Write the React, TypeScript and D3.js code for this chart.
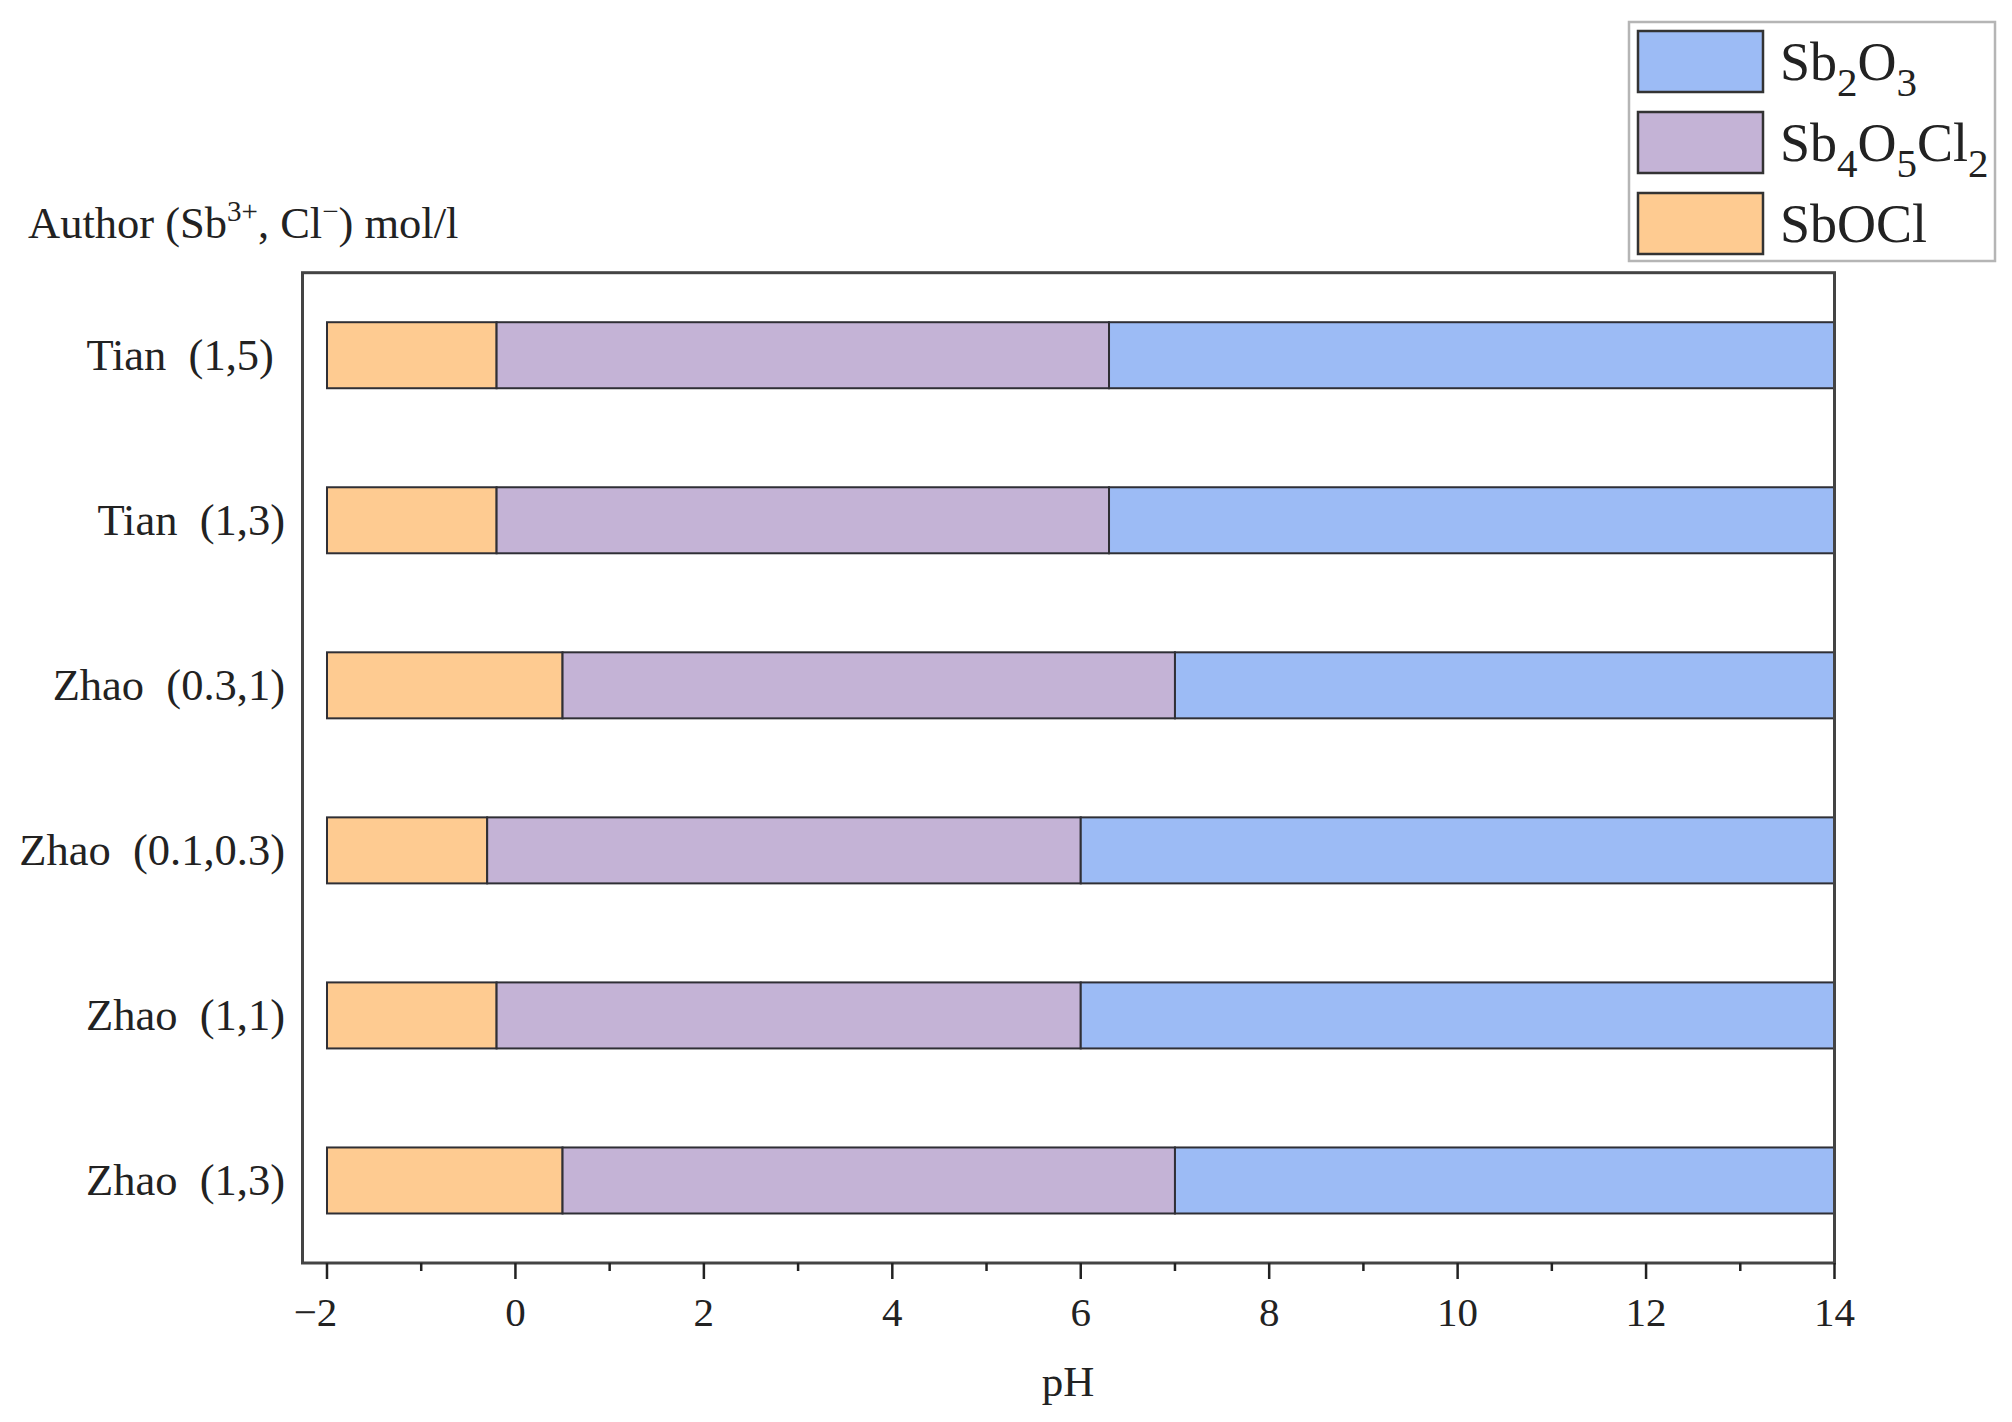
import React from "react";
import * as d3 from "d3";

const categories = ["Tian  (1,5) ", "Tian  (1,3)", "Zhao  (0.3,1)", "Zhao  (0.1,0.3)", "Zhao  (1,1)", "Zhao  (1,3)"];
const phStart = -2;
const phEnd = 14;
const sbOClEnd = [-0.2, -0.2, 0.5, -0.3, -0.2, 0.5];
const sb4o5cl2End = [6.3, 6.3, 7.0, 6.0, 6.0, 7.0];
const majorTicks = [-2, 0, 2, 4, 6, 8, 10, 12, 14];
const minorTicks = [-1, 1, 3, 5, 7, 9, 11, 13];
const legendLabels = ["Sb2O3", "Sb4O5Cl2", "SbOCl"];
const phaseColors = { SbOCl: "#FECB91", Sb4O5Cl2: "#C4B3D6", Sb2O3: "#9CBBF5" };

const W = 2012;
const H = 1422;
const FONT = "'Liberation Serif', 'Times New Roman', serif";

function formula(label: string, fs: number) {
  const parts = label.match(/[A-Za-z]+|\d+/g) || [];
  const out: React.ReactNode[] = [];
  let sub = false;
  parts.forEach((p, i) => {
    const isNum = /^\d+$/.test(p);
    if (isNum) {
      out.push(
        <tspan key={i} fontSize={fs * 0.76} dy={fs * 0.3}>
          {p}
        </tspan>
      );
      sub = true;
    } else {
      out.push(
        <tspan key={i} dy={sub ? -fs * 0.3 : 0}>
          {p}
        </tspan>
      );
      sub = false;
    }
  });
  return out;
}

export default function App() {
  const left = 302.5;
  const right = 1834.5;
  const top = 272.7;
  const bottom = 1263;
  const x = d3.scaleLinear().domain([-2.26, 14]).range([left, right]);
  const y = d3.scaleBand<string>().domain(categories).range([top, bottom]).paddingInner(0.6).paddingOuter(0.3);

  const segments = categories.flatMap((c, i) => [
    { c, key: "SbOCl", x0: phStart, x1: sbOClEnd[i] },
    { c, key: "Sb4O5Cl2", x0: sbOClEnd[i], x1: sb4o5cl2End[i] },
    { c, key: "Sb2O3", x0: sb4o5cl2End[i], x1: phEnd },
  ]);

  const catFs = 44.5;
  const tickFs = 41;
  const legFs = 54;

  return (
    <svg width={W} height={H} style={{ position: "absolute", left: 0, top: 0, background: "#fff" }} fontFamily={FONT}>
      <rect x={0} y={0} width={W} height={H} fill="#fff" />
      {/* title */}
      <text x={28} y={238} fontSize={44.5} fill="#222">
        Author (Sb
        <tspan fontSize={29} dy={-17}>3+</tspan>
        <tspan dy={17}>, Cl</tspan>
        <tspan fontSize={29} dy={-17}>−</tspan>
        <tspan dy={17}>) mol/l</tspan>
      </text>

      {/* bars */}
      {segments.map((s, i) => (
        <rect
          key={i}
          x={x(s.x0)}
          y={y(s.c)}
          width={x(s.x1) - x(s.x0)}
          height={y.bandwidth()}
          fill={(phaseColors as any)[s.key]}
          stroke="#2f2f35"
          strokeWidth={2}
        />
      ))}

      {/* frame */}
      <rect x={left} y={top} width={right - left} height={bottom - top} fill="none" stroke="#444" strokeWidth={3} />

      {/* ticks */}
      {majorTicks.map((t) => (
        <line key={"M" + t} x1={x(t)} x2={x(t)} y1={bottom} y2={bottom + 16} stroke="#222" strokeWidth={2.5} />
      ))}
      {minorTicks.map((t) => (
        <line key={"m" + t} x1={x(t)} x2={x(t)} y1={bottom} y2={bottom + 8} stroke="#222" strokeWidth={2.5} />
      ))}
      {majorTicks.map((t) => (
        <text
          key={"L" + t}
          x={x(t)}
          y={1326}
          fontSize={tickFs}
          textAnchor="middle"
          fill="#222"
          dx={t < 0 ? -tickFs * 0.28 : 0}
        >
          {t < 0 ? "−" + Math.abs(t) : String(t)}
        </text>
      ))}
      <text x={1068} y={1396} fontSize={43} textAnchor="middle" fill="#222">
        pH
      </text>

      {/* category labels */}
      {categories.map((c) => (
        <text
          key={c}
          x={285}
          y={(y(c) as number) + y.bandwidth() / 2 + 15}
          fontSize={catFs}
          textAnchor="end"
          fill="#222"
          xmlSpace="preserve"
          style={{ whiteSpace: "pre" }}
        >
          {c}
        </text>
      ))}

      {/* legend */}
      <rect x={1629} y={22} width={366} height={239} fill="#fff" stroke="#b5b5b5" strokeWidth={2.5} />
      {legendLabels.map((lab, i) => {
        const sy = 31 + i * 81;
        return (
          <g key={lab}>
            <rect x={1638} y={sy} width={125} height={61} fill={(phaseColors as any)[lab]} stroke="#333" strokeWidth={2.5} />
            <text x={1780} y={sy + 30.5 + 18} fontSize={legFs} fill="#222">
              {formula(lab, legFs)}
            </text>
          </g>
        );
      })}
    </svg>
  );
}
